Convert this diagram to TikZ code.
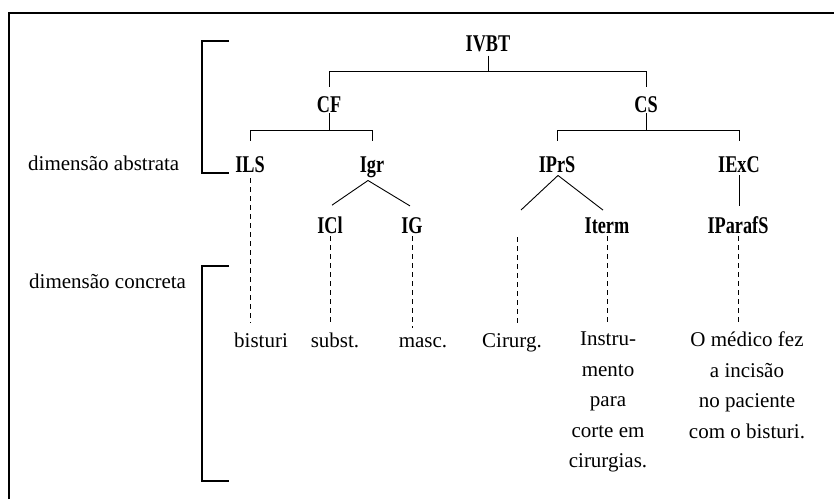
\documentclass[tikz,border=0pt]{standalone}
\usepackage{fontspec}
\setmainfont{Liberation Serif}
\newfontfamily\lblfont{Liberation Serif}[FakeStretch=0.76]
\begin{document}
\begin{tikzpicture}[x=1pt,y=-1pt,
  lbl/.style={font=\lblfont\bfseries\fontsize{24}{28}\selectfont,inner sep=1pt,anchor=base},
  txt/.style={font=\fontsize{21}{30.5}\selectfont,inner sep=1pt,anchor=base,align=center},
  side/.style={font=\fontsize{21}{30.5}\selectfont,inner sep=0pt,anchor=base west},
  branch/.style={line width=0.9pt},
  trace/.style={line width=0.8pt,dash pattern=on 5pt off 4pt},
  bracket/.style={line width=2.4pt,line cap=butt,line join=miter},
  frame/.style={line width=1.4pt}]
\useasboundingbox (0,0) rectangle (834,499);

% outer frame (top and left edges)
\draw[frame] (9,499) -- (9,13) -- (834,13);

% level brackets
\draw[bracket] (229,41) -- (202,41) -- (202,173) -- (229,173);
\draw[bracket] (229,266) -- (202,266) -- (202,481) -- (229,481);
\node[side] (abs) at (28,170) {dimensão abstrata};
\node[side] (con) at (29,288) {dimensão concreta};

% abstract units
\node[lbl] (ivbt) at (488,51) {IVBT};
\node[lbl] (cf) at (329,112) {CF};
\node[lbl] (cs) at (646,112) {CS};
\node[lbl] (ils) at (250,172) {ILS};
\node[lbl] (igr) at (372,172) {Igr};
\node[lbl] (iprs) at (557,172) {IPrS};
\node[lbl] (iexc) at (739,172) {IExC};
\node[lbl] (icl) at (330,233) {ICl};
\node[lbl] (ig) at (412,233) {IG};
\node[lbl] (iterm) at (607,233) {Iterm};
\node[lbl] (iparafs) at (738,233) {IParafS};

% concrete realisations
\node[txt] (bist) at (261,347) {bisturi};
\node[txt] (subst) at (335,347) {subst.};
\node[txt] (masc) at (423,347) {masc.};
\node[txt] (cir) at (512,347) {Cirurg.};
\node[txt,anchor=north] (instr) at (608,331) {Instru-\\mento\\para\\corte em\\cirurgias.};
\node[txt,anchor=north] (frase) at (747,331) {O médico fez\\a incisão\\no paciente\\com o bisturi.};

% bars of the tree
\coordinate (topbar) at (0,71);
\coordinate (lowbar) at (0,130);
\draw[branch] ([yshift=-3pt]ivbt.south) -- (ivbt.south |- topbar);
\draw[branch] ([yshift=8pt]cf.north) -- (cf.north |- topbar) -- (cs.north |- topbar) -- ([yshift=8pt]cs.north);
\draw[branch] (cf.south) -- (cf.south |- lowbar);
\draw[branch] ([yshift=14pt]ils.north) -- (ils.north |- lowbar) -- (igr.north |- lowbar) -- ([yshift=14pt]igr.north);
\draw[branch] (cs.south) -- (cs.south |- lowbar);
\draw[branch] ([yshift=14pt]iprs.north) -- (iprs.north |- lowbar) -- (iexc.north |- lowbar) -- ([yshift=14pt]iexc.north);

% forks
\draw[branch] ([xshift=-4pt,yshift=-2pt]igr.south) -- ([xshift=2pt,yshift=10pt]icl.north);
\draw[branch] ([xshift=-4pt,yshift=-2pt]igr.south) -- ([xshift=-2pt,yshift=10pt]ig.north);
\coordinate (prsleft) at (521,210);
\draw[branch] ([xshift=1pt,yshift=-2pt]iprs.south) -- (prsleft);
\draw[branch] ([xshift=1pt,yshift=-2pt]iprs.south) -- ([xshift=-4pt,yshift=6pt]iterm.north);
\draw[branch] ([yshift=-2pt]iexc.south) -- ([yshift=9pt]iparafs.north -| iexc.south);

% dashed links to the concrete level
\coordinate (cirtop) at (517,237);
\draw[trace] ([yshift=-5pt]ils.south) -- ([yshift=8pt]ils.south |- bist.north);
\draw[trace] ([yshift=-2pt]icl.south) -- ([yshift=8pt]icl.south |- subst.north);
\draw[trace] ([yshift=-2pt]ig.south) -- ([yshift=8pt]ig.south |- masc.north);
\draw[trace] (cirtop) -- ([yshift=8pt]cirtop |- cir.north);
\draw[trace] ([yshift=-2pt]iterm.south) -- ([yshift=8pt]iterm.south |- instr.north);
\draw[trace] ([yshift=-2pt]iparafs.south) -- ([yshift=8pt]iparafs.south |- frase.north);
\end{tikzpicture}
\end{document}
